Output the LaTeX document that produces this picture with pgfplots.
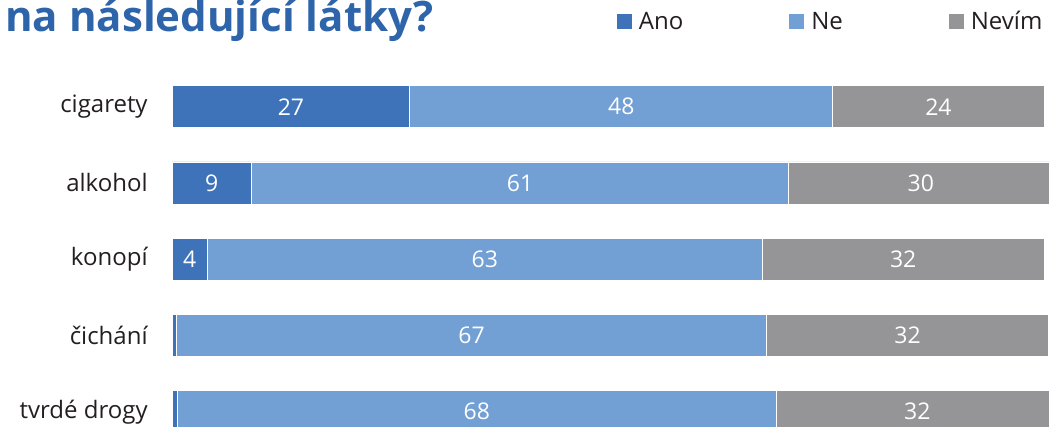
\documentclass[border=0pt]{standalone}
\usepackage{pgfplots}
\pgfplotsset{compat=1.18}
\usepackage{pgfplotstable}
\usepackage{fontspec}
\setmainfont{Open Sans}
\definecolor{ano}{HTML}{3E73BA}
\definecolor{ne}{HTML}{729FD4}
\definecolor{nevim}{HTML}{959598}
\definecolor{titleblue}{HTML}{2E64AA}
\definecolor{txt}{HTML}{231F20}
\pgfplotstableread{
y ano ne nevim
4 27 48 24
3 9 61 30
2 4 63 32
1 0.5 67 32
0 0.6 68 32
}\data
\begin{document}
\begin{tikzpicture}[x=1pt,y=1pt]
\useasboundingbox (0,0) rectangle (524.5,213.5);
\node[anchor=base west, font=\fontsize{21}{24}\selectfont\bfseries, text=titleblue, inner sep=0pt] at (2.5,197.5) {na následující látky?};
\begin{axis}[
  at={(86pt,0pt)}, anchor=south west,
  scale only axis, width=444.905pt, height=190.625pt,
  xmin=0, xmax=101, ymin=-0.2, ymax=4.8,
  xbar stacked, bar width=21pt,
  axis line style={draw=none}, major tick length=0pt,
  xtick=\empty, ytick={0,1,2,3,4},
  yticklabels={tvrdé drogy, čichání, konopí, alkohol, cigarety},
  yticklabel style={font=\fontsize{12}{14}\selectfont, text=txt, inner sep=0pt, xshift=-12pt},
  /pgf/number format/assume math mode=true,
  every node near coord/.append style={font=\fontsize{11.5}{13}\selectfont, text=white, anchor=center},
  legend columns=3,
  legend style={at={(0.4995,1.0623)}, anchor=west, draw=none, fill=none, inner sep=0pt,
    font=\fontsize{12}{14}\selectfont, text=txt,
    /tikz/every even column/.append style={column sep=51pt}},
  legend image code/.code={\fill[#1,draw=none] (0pt,-3.75pt) rectangle (7.5pt,3.75pt);},
]
\addplot[fill=ano, draw=white, line width=0.4pt,
  visualization depends on={\thisrow{ano} \as \val},
  nodes near coords={\ifdim\val pt<2pt\relax\else\pgfmathprintnumber{\val}\fi}]
  table[x=ano, y=y] {\data};
\addlegendentry{\hspace{1.5pt}Ano}
\addplot[fill=ne, draw=white, line width=0.4pt,
  visualization depends on={\thisrow{ne} \as \val},
  nodes near coords={\ifdim\val pt<2pt\relax\else\pgfmathprintnumber{\val}\fi}]
  table[x=ne, y=y] {\data};
\addlegendentry{\hspace{1.5pt}Ne}
\addplot[fill=nevim, draw=white, line width=0.4pt,
  visualization depends on={\thisrow{nevim} \as \val},
  nodes near coords={\ifdim\val pt<2pt\relax\else\pgfmathprintnumber{\val}\fi}]
  table[x=nevim, y=y] {\data};
\addlegendentry{\hspace{1.5pt}Nevím}
\end{axis}
\end{tikzpicture}
\end{document}
